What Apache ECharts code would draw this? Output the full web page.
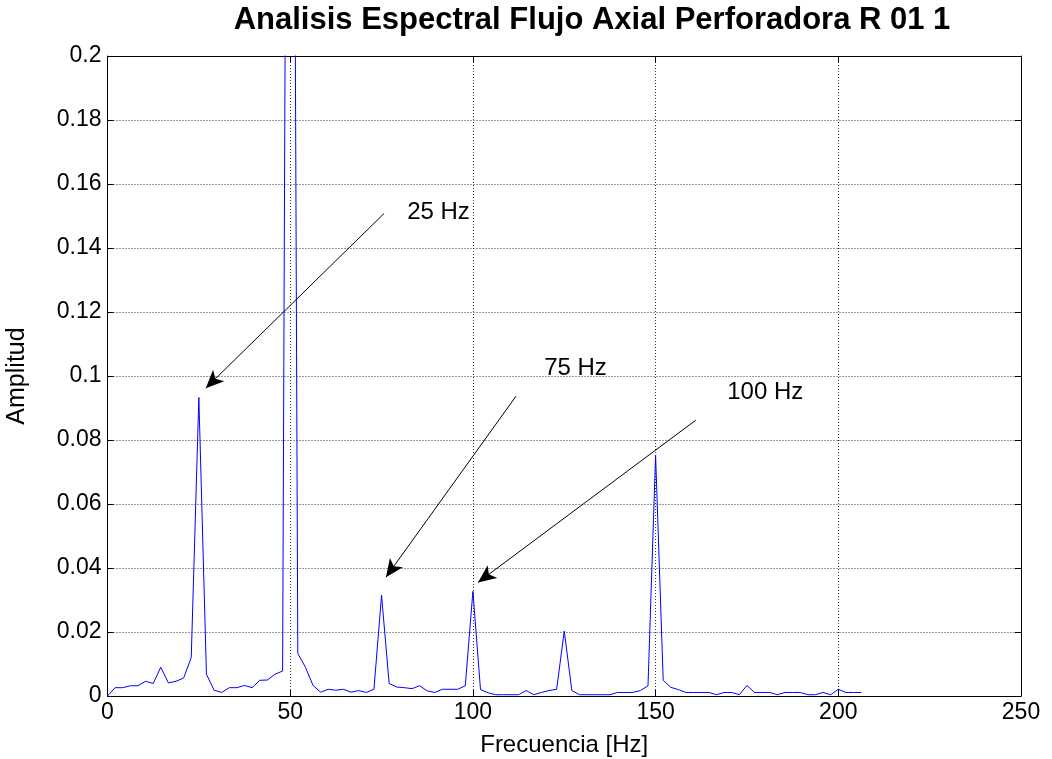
<!DOCTYPE html>
<html>
<head>
<meta charset="utf-8">
<script src="https://cdn.jsdelivr.net/npm/echarts@6/dist/echarts.min.js"></script>
<style>
  html, body { margin: 0; padding: 0; background: #fff; }
  #chart { width: 1052px; height: 759px; }
</style>
</head>
<body>
<div id="chart"></div>
<script>
// frecuencias de cada bin (Hz)
var freq = [0, 2.08, 4.17, 6.25, 8.33, 10.42, 12.5, 14.58, 16.67, 18.75, 20.83, 22.92,
  25, 27.08, 29.17, 31.25, 33.33, 35.42, 37.5, 39.58, 41.67, 43.75, 45.83, 47.92,
  50, 52.08, 54.17, 56.25, 58.33, 60.42, 62.5, 64.58, 66.67, 68.75, 70.83, 72.92,
  75, 77.08, 79.17, 81.25, 83.33, 85.42, 87.5, 89.58, 91.67, 93.75, 95.83, 97.92,
  100, 102.08, 104.17, 106.25, 108.33, 110.42, 112.5, 114.58, 116.67, 118.75, 120.83, 122.92,
  125, 127.08, 129.17, 131.25, 133.33, 135.42, 137.5, 139.58, 141.67, 143.75, 145.83, 147.92,
  150, 152.08, 154.17, 156.25, 158.33, 160.42, 162.5, 164.58, 166.67, 168.75, 170.83, 172.92,
  175, 177.08, 179.17, 181.25, 183.33, 185.42, 187.5, 189.58, 191.67, 193.75, 195.83, 197.92,
  200, 202.08, 204.17, 206.25];

// amplitud
var amplitud = [0, 0.0026, 0.0026, 0.0032, 0.0032, 0.0046, 0.0039, 0.009, 0.0041, 0.0046, 0.0056, 0.012,
  0.0933, 0.0068, 0.0018, 0.0011, 0.0026, 0.0026, 0.0033, 0.0026, 0.0049, 0.005, 0.0068, 0.0078,
  0.6, 0.0133, 0.009, 0.0033, 0.0012, 0.0021, 0.0018, 0.0021, 0.0012, 0.0017, 0.0011, 0.0021,
  0.0315, 0.0039, 0.0028, 0.0026, 0.0023, 0.0032, 0.0016, 0.0011, 0.0021, 0.0021, 0.0021, 0.0032,
  0.0327, 0.002, 0.001, 0.0004, 0.0004, 0.0004, 0.0004, 0.0017, 0.0004, 0.0011, 0.0017, 0.0021,
  0.0203, 0.0017, 0.0004, 0.0004, 0.0004, 0.0004, 0.0004, 0.0011, 0.0011, 0.0011, 0.0017, 0.0032,
  0.0752, 0.0049, 0.0027, 0.002, 0.0011, 0.0011, 0.0011, 0.0011, 0.0004, 0.0011, 0.0011, 0.0004,
  0.0033, 0.0011, 0.0011, 0.0011, 0.0004, 0.0011, 0.0011, 0.0011, 0.0004, 0.0004, 0.0011, 0.0004,
  0.0021, 0.0011, 0.0011, 0.0011];

// anotaciones: texto y flecha (inicio -> punta) en coordenadas de datos
var notaTexto = ['25 Hz', '75 Hz', '100 Hz'];
var notaPos = [[82.0, 0.151], [119.5, 0.1024], [169.6, 0.0949]];
var flechaInicio = [[75.7, 0.1508], [111.8, 0.0937], [161.0, 0.0862]];
var flechaPunta = [[26.9, 0.0962], [76.2, 0.0371], [101.4, 0.0355]];

var fuente = 'Liberation Sans';

var serie = freq.map(function (f, i) { return [f, amplitud[i]]; });

var flechas = flechaInicio.map(function (p, i) {
  return [{ coord: p, symbol: 'none' }, { coord: flechaPunta[i], symbol: 'arrow' }];
});
var textos = notaTexto.map(function (t, i) {
  return { name: t, coord: notaPos[i] };
});

var chart = echarts.init(document.getElementById('chart'));

var option = {
  backgroundColor: '#fff',
  animation: false,
  title: {
    text: 'Analisis Espectral Flujo Axial Perforadora R 01 1',
    left: 587,
    top: 0,
    textAlign: 'center',
    textStyle: { fontFamily: fuente, fontWeight: 'bold', fontSize: 31, color: '#000' }
  },
  grid: { left: 107.5, right: 31, top: 56, bottom: 63, show: false, outerBoundsMode: 'none' },
  xAxis: [{
    type: 'value', min: 0, max: 250, interval: 50,
    name: 'Frecuencia [Hz]', nameLocation: 'middle', nameGap: 37,
    nameTextStyle: { fontFamily: fuente, fontSize: 24, color: '#000' },
    axisLine: { show: true, onZero: false, lineStyle: { color: '#000', width: 1 } },
    axisTick: { show: true, inside: true, length: 6, lineStyle: { color: '#000' } },
    axisLabel: { fontFamily: fuente, fontSize: 23, color: '#000', margin: 5 },
    splitLine: { show: true, lineStyle: { color: '#333', type: [1, 2], width: 1 } }
  }, {
    type: 'value', min: 0, max: 250, interval: 50, position: 'top',
    axisLine: { show: true, onZero: false, lineStyle: { color: '#000', width: 1 } },
    axisTick: { show: true, inside: true, length: 6, lineStyle: { color: '#000' } },
    axisLabel: { show: false },
    splitLine: { show: false }
  }],
  yAxis: [{
    type: 'value', min: 0, max: 0.2, interval: 0.02,
    name: 'Amplitud', nameLocation: 'middle', nameGap: 78, nameRotate: 90,
    nameTextStyle: { fontFamily: fuente, fontSize: 25, color: '#000' },
    axisLine: { show: true, onZero: false, lineStyle: { color: '#000', width: 1 } },
    axisTick: { show: true, inside: true, length: 6, lineStyle: { color: '#000' } },
    axisLabel: { fontFamily: fuente, fontSize: 23, color: '#000', margin: 6 },
    splitLine: { show: true, lineStyle: { color: '#333', type: [1, 2], width: 1 } }
  }, {
    type: 'value', min: 0, max: 0.2, interval: 0.02, position: 'right',
    axisLine: { show: true, onZero: false, lineStyle: { color: '#000', width: 1 } },
    axisTick: { show: true, inside: true, length: 6, lineStyle: { color: '#000' } },
    axisLabel: { show: false },
    splitLine: { show: false }
  }],
  series: [{
    type: 'line',
    xAxisIndex: 0,
    yAxisIndex: 0,
    data: serie,
    showSymbol: false,
    symbol: 'none',
    clip: true,
    lineStyle: { color: '#0000ff', width: 1 },
    markLine: {
      silent: true,
      symbolSize: [12, 18],
      label: { show: false },
      lineStyle: { color: '#000', width: 1, type: 'solid' },
      data: flechas
    },
    markPoint: {
      silent: true,
      symbol: 'circle',
      symbolSize: 1,
      itemStyle: { color: 'rgba(0,0,0,0)' },
      label: {
        show: true, position: 'inside', align: 'left', verticalAlign: 'middle',
        fontFamily: fuente, fontSize: 24, color: '#000',
        formatter: function (p) { return p.name; }
      },
      data: textos
    }
  }]
};

chart.setOption(option);
window.addEventListener('resize', function () { chart.resize(); });
</script>
</body>
</html>
